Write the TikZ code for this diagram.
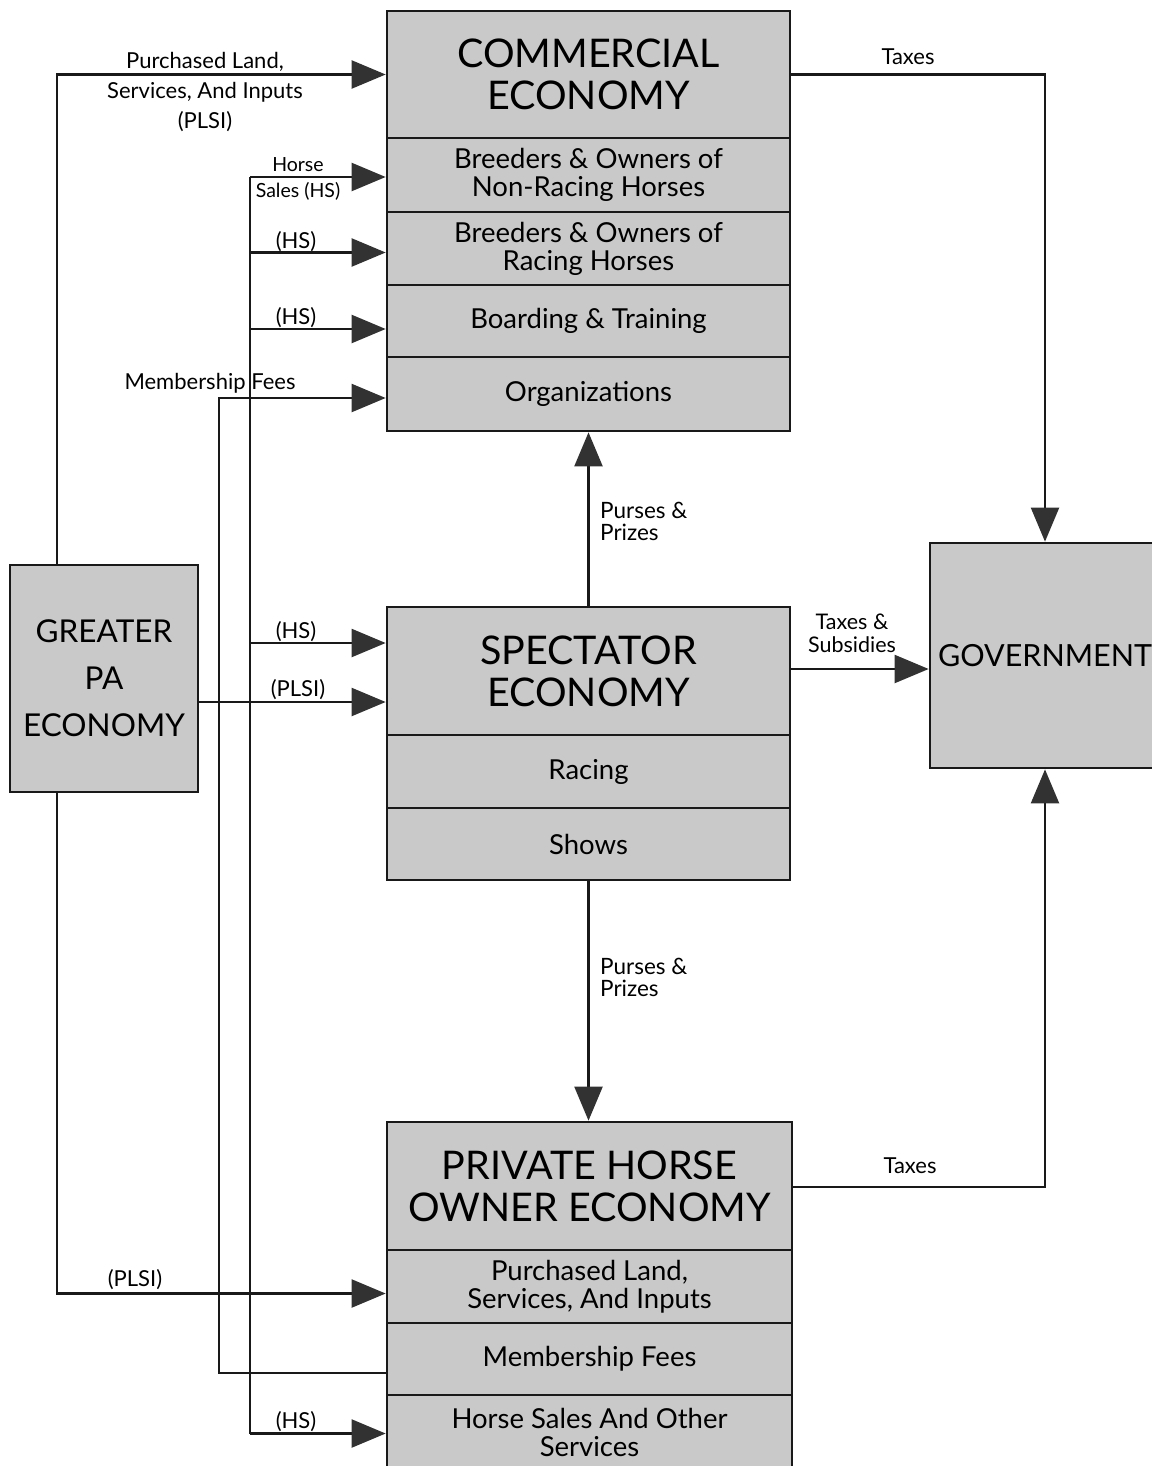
\documentclass[tikz,border=0pt]{standalone}
\usepackage{fontspec}
\setmainfont{Lato}
\usetikzlibrary{arrows.meta}
\definecolor{boxgray}{RGB}{201,201,201}
\definecolor{ink}{RGB}{25,25,25}
\definecolor{tipgray}{RGB}{50,50,50}
\tikzset{
 box/.style={draw=ink, line width=2.7pt, fill=boxgray, inner sep=0pt, align=center},
 hdr/.style={box, font=\fontsize{39.5}{42}\selectfont},
 sub/.style={box, font=\fontsize{27.5}{28}\selectfont},
 flow/.style={draw=ink, line width=2.2pt, -{Triangle[length=34pt,width=28pt,color=tipgray]}},
 plain/.style={draw=ink, line width=2.2pt},
 lbl/.style={font=\fontsize{22}{30}\selectfont, align=center, inner sep=0pt},
 lbls/.style={font=\fontsize{19.5}{26}\selectfont, align=center, inner sep=0pt},
 lblt/.style={font=\fontsize{21.5}{23}\selectfont, align=center, inner sep=0pt},
 lblp/.style={font=\fontsize{22.5}{22}\selectfont, align=left, inner sep=0pt, anchor=west},
}
\begin{document}
\begin{tikzpicture}[x=1pt,y=-1pt]
\useasboundingbox (0,0) rectangle (1151,1466);
% commercial
\node[hdr, minimum width=403, minimum height=127] (ce) at (588.5,74.5) {COMMERCIAL\\ECONOMY};
\node[sub, minimum width=403, minimum height=74] (ce1) at (588.5,175) {Breeders \& Owners of\\Non-Racing Horses};
\node[sub, minimum width=403, minimum height=73] (ce2) at (588.5,248.5) {Breeders \& Owners of\\Racing Horses};
\node[sub, minimum width=403, minimum height=72] (ce3) at (588.5,321) {Boarding \& Training};
\node[sub, minimum width=403, minimum height=74] (ce4) at (588.5,394) {Organizations};
% spectator
\node[hdr, minimum width=403, minimum height=128] (se) at (588.5,671) {SPECTATOR\\ECONOMY};
\node[sub, minimum width=403, minimum height=73] (se1) at (588.5,771.5) {Racing};
\node[sub, minimum width=403, minimum height=72] (se2) at (588.5,844) {Shows};
% private
\node[hdr, minimum width=405, minimum height=128] (pe) at (589.5,1186) {PRIVATE HORSE\\OWNER ECONOMY};
\node[sub, minimum width=405, minimum height=73] (pe1) at (589.5,1286.5) {Purchased Land,\\Services, And Inputs};
\node[sub, minimum width=405, minimum height=72] (pe2) at (589.5,1359) {Membership Fees};
\node[sub, minimum width=405, minimum height=75] (pe3) at (589.5,1432.5) {Horse Sales And Other\\Services};
% greater PA
\node[box, font=\fontsize{31.5}{47}\selectfont, minimum width=188, minimum height=227] (gpa) at (104,678.5) {GREATER\\PA\\ECONOMY};
% government
\node[box, font=\fontsize{30.5}{34}\selectfont, minimum width=230, minimum height=225] (gov) at (1045,655.5) {GOVERNMENT};

% guide coordinates
\coordinate (vL) at (57,0);
\coordinate (vM) at (219,0);
\coordinate (vH) at (250,0);
\coordinate (seP) at ([yshift=-31pt]se.west);
\coordinate (pe1P) at ([yshift=-7pt]pe1.west);
\coordinate (ce1H) at ([yshift=-2pt]ce1.west);
\coordinate (ce2H) at ([yshift=-4pt]ce2.west);
\coordinate (ce3H) at ([yshift=-8pt]ce3.west);
\coordinate (seH) at ([yshift=28pt]se.west);
\coordinate (pe3H) at ([yshift=-1pt]pe3.west);
\coordinate (pe2M) at ([yshift=-14pt]pe2.west);
\coordinate (ce4M) at ([yshift=-4pt]ce4.west);
\coordinate (seT) at ([yshift=2pt]se.east);
\coordinate (peT) at ([yshift=-1pt]pe.east);

% PLSI flows from Greater PA
\draw[flow] (gpa.north -| vL) -- (vL |- ce.west) -- (ce.west);
\draw[flow] (seP -| gpa.east) -- (seP);
\draw[flow] (gpa.south -| vL) -- (vL |- pe1P) -- (pe1P);

% horse sales bus
\draw[plain] (vH |- ce1H) -- (vH |- pe3H);
\draw[flow] (ce1H -| vH) -- (ce1H);
\draw[flow] (ce2H -| vH) -- (ce2H);
\draw[flow] (ce3H -| vH) -- (ce3H);
\draw[flow] (seH -| vH) -- (seH);
\draw[flow] (pe3H -| vH) -- (pe3H);

% membership fees
\draw[flow] (pe2M) -- (pe2M -| vM) -- (vM |- ce4M) -- (ce4M);

% taxes
\draw[flow] (ce.east) -| (gov.north);
\draw[flow] (seT) -- (seT -| gov.west);
\draw[flow] (peT) -| (gov.south);

% purses
\draw[flow] (se.north) -- (ce4.south);
\draw[flow] (se2.south) -- (se2.south |- pe.north);

% labels
\node[lbl] (l1) at (205,92) {Purchased Land,\\Services, And Inputs\\(PLSI)};
\node[lbls] (l2) at (298,179) {Horse\\Sales (HS)};
\node[lbl] (l3) at (296,242) {(HS)};
\node[lbl] (l4) at (296,318) {(HS)};
\node[lbl] (l5) at (210,383) {Membership Fees};
\node[lbl] (l6) at (296,632) {(HS)};
\node[lbl] (l7) at (298,690) {(PLSI)};
\node[lbl] (l8) at (135,1280) {(PLSI)};
\node[lbl] (l9) at (296,1422) {(HS)};
\node[lbl] (l10) at (908,57) {Taxes};
\node[lbl] (l11) at (910,1166) {Taxes};
\node[lblt] (l12) at (852,633) {Taxes \&\\Subsidies};
\node[lblp] (l13) at (600,521) {Purses \&\\Prizes};
\node[lblp] (l14) at (600,977) {Purses \&\\Prizes};
\end{tikzpicture}
\end{document}
